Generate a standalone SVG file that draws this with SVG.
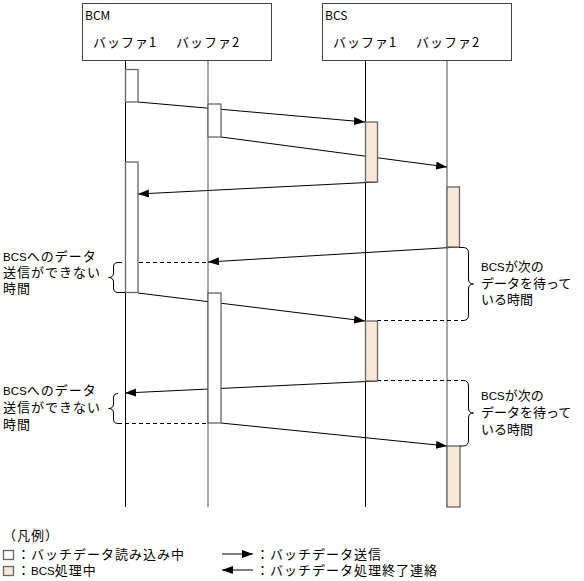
<svg xmlns="http://www.w3.org/2000/svg" width="584" height="581" viewBox="0 0 584 581">
<style>
text{font-family:"Noto Sans CJK JP","Noto Sans",sans-serif;font-size:13px;fill:#000}
.ml{font-family:"Liberation Sans","Noto Sans CJK JP",sans-serif}
.lat{font-size:11.5px;letter-spacing:0}
.hdr{font-size:12px}
.sp{letter-spacing:1px}
.frame{fill:#fff;stroke:#444;stroke-width:1}
.lifeK{stroke:#000;stroke-width:1}
.lifeG{stroke:#777;stroke-width:1.3}
.act{fill:#fff;stroke:#666;stroke-width:1.3}
.proc{fill:#F9E8D6;stroke:#666;stroke-width:1.3}
.msg{stroke:#000;stroke-width:1;fill:none;marker-end:url(#ah)}
.dash{stroke:#000;stroke-width:1;fill:none;stroke-dasharray:4,3}
.brace{stroke:#000;stroke-width:1;fill:none}
</style>
<defs>
<marker id="ah" markerWidth="11" markerHeight="8" refX="11" refY="4" orient="auto" markerUnits="userSpaceOnUse">
<path d="M0,0 L11,4 L0,8 z" fill="#000"/>
</marker>
</defs>

<g id="BCM">
<rect class="frame" x="82.5" y="3.5" width="189" height="57"/>
<text class="hdr" x="85" y="20">BCM</text>
<text class="sp" x="93" y="47">バッファ1</text>
<text class="sp" x="176" y="47">バッファ2</text>
</g>
<g id="BCS">
<rect class="frame" x="322.5" y="3.5" width="189" height="57"/>
<text class="hdr" x="325" y="20">BCS</text>
<text class="sp" x="333" y="47">バッファ1</text>
<text class="sp" x="416" y="47">バッファ2</text>
</g>

<g id="lifelines">
<line class="lifeK" x1="125.5" y1="61" x2="125.5" y2="507"/>
<line class="lifeG" x1="208" y1="61" x2="208" y2="507"/>
<line class="lifeK" x1="365.5" y1="61" x2="365.5" y2="507"/>
<line class="lifeG" x1="447" y1="61" x2="447" y2="507"/>
</g>

<g id="connectors">
<line class="msg" x1="138" y1="102" x2="365" y2="122"/>
<line class="msg" x1="221" y1="137" x2="447" y2="167"/>
<line class="msg" x1="377" y1="182" x2="138" y2="194"/>
<line class="msg" x1="459" y1="247" x2="208" y2="262"/>
<line class="msg" x1="138" y1="293" x2="365" y2="321"/>
<line class="msg" x1="377" y1="381" x2="125" y2="393"/>
<line class="msg" x1="221" y1="423" x2="447" y2="446"/>
<line class="dash" x1="118" y1="262.5" x2="208" y2="262.5"/>
<line class="dash" x1="377" y1="320.5" x2="463" y2="320.5"/>
<line class="dash" x1="377" y1="380.5" x2="463" y2="380.5"/>
<line class="dash" x1="118" y1="423.5" x2="208" y2="423.5"/>
</g>

<g id="activations">
<rect class="act" x="125.5" y="69.5" width="12.5" height="32.5"/>
<rect class="act" x="208" y="104" width="13" height="33"/>
<rect class="act" x="125.5" y="162" width="12.5" height="130.5"/>
<rect class="act" x="208" y="293" width="13" height="130"/>
<rect class="proc" x="365.5" y="122" width="12" height="60"/>
<rect class="proc" x="447" y="187" width="12.5" height="60"/>
<rect class="proc" x="365.5" y="321" width="12" height="60"/>
<rect class="proc" x="447" y="446" width="13" height="61"/>
</g>

<g id="wait-left-1">
<path class="brace" d="M118,262.5 Q113.5,262.5 113.5,267 L113.5,273 Q113.5,277.5 108.5,277.5 Q113.5,277.5 113.5,282 L113.5,288 Q113.5,292.5 118,292.5 L125,292.5"/>
<text class="ml sp" x="3" y="261"><tspan class="lat">BCS</tspan>へのデータ</text>
<text class="ml sp" x="3" y="277">送信ができない</text>
<text class="ml sp" x="3" y="293">時間</text>
</g>
<g id="wait-left-2">
<path class="brace" d="M118,393.5 Q113.5,393.5 113.5,398 L113.5,404 Q113.5,408.5 108.5,408.5 Q113.5,408.5 113.5,413 L113.5,419 Q113.5,423.5 118,423.5"/>
<text class="ml sp" x="3" y="395"><tspan class="lat">BCS</tspan>へのデータ</text>
<text class="ml sp" x="3" y="412">送信ができない</text>
<text class="ml sp" x="3" y="429">時間</text>
</g>
<g id="wait-right-1">
<path class="brace" d="M459,247.5 L463,247.5 Q468.5,247.5 468.5,253 L468.5,279 Q468.5,284 473.5,284 Q468.5,284 468.5,289 L468.5,315 Q468.5,320.5 463,320.5"/>
<text class="ml" x="481" y="271"><tspan class="lat">BCS</tspan>が次の</text>
<text class="ml" x="481" y="288">データを待って</text>
<text class="ml" x="481" y="304">いる時間</text>
</g>
<g id="wait-right-2">
<path class="brace" d="M463,380.5 Q468.5,380.5 468.5,386 L468.5,408 Q468.5,413 473.5,413 Q468.5,413 468.5,418 L468.5,440 Q468.5,446 463,446 L460,446"/>
<text class="ml" x="481" y="400"><tspan class="lat">BCS</tspan>が次の</text>
<text class="ml" x="481" y="417">データを待って</text>
<text class="ml" x="481" y="434">いる時間</text>
</g>

<g id="legend">
<text class="ml sp" x="3" y="540">（凡例）</text>
<rect class="act" x="3.5" y="550.5" width="10" height="9" stroke-width="1"/>
<text class="ml sp" x="17" y="559">：バッチデータ読み込み中</text>
<rect class="proc" x="3.5" y="566.5" width="10" height="9" stroke-width="1"/>
<text class="ml sp" x="17" y="575">：<tspan class="lat">BCS</tspan>処理中</text>
<line class="msg" x1="222" y1="554" x2="253" y2="554"/>
<text class="ml sp" x="256" y="559">：バッチデータ送信</text>
<line class="msg" x1="253" y1="570" x2="222" y2="570"/>
<text class="ml sp" x="256" y="575">：バッチデータ処理終了連絡</text>
</g>
</svg>
